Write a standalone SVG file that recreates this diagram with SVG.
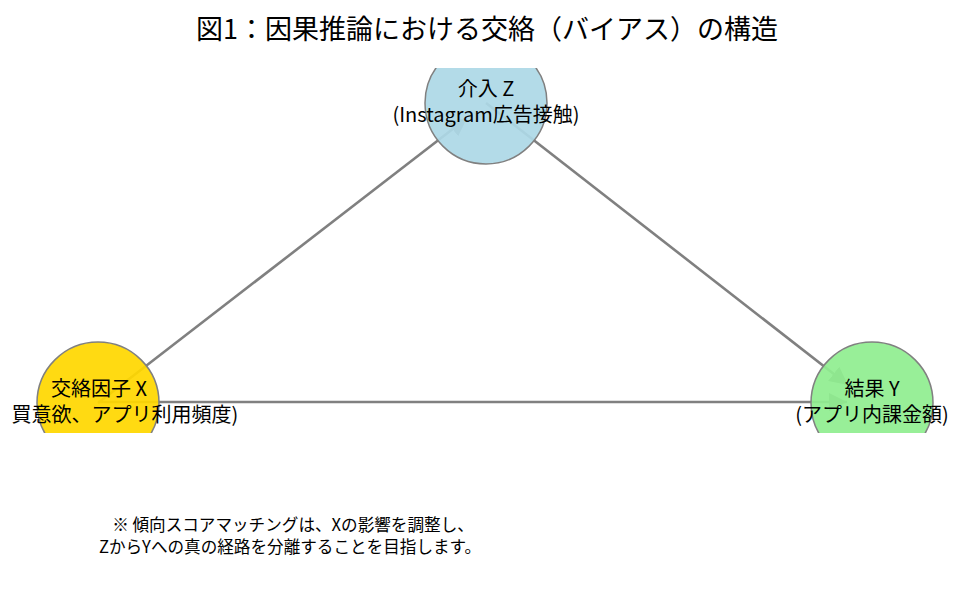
<svg xmlns="http://www.w3.org/2000/svg" width="972" height="608" viewBox="0 0 972 608">
<style>
text{font-family:"Noto Sans CJK JP","Noto Sans",sans-serif;fill:#000}
.t{font-size:27px}
.n{font-size:20px;text-anchor:middle}
.s{font-size:16.6px;text-anchor:middle}
.e{stroke:#808080;stroke-width:2.6;fill:none}
.c{stroke:#808080;stroke-width:1.5;fill-opacity:0.93}
</style>
<defs>
<marker id="ah" viewBox="0 0 10 10" refX="10" refY="5" markerWidth="7" markerHeight="7" markerUnits="strokeWidth" orient="auto">
<path d="M0,0 L10,5 L0,10 z" fill="#808080"/>
</marker>
<clipPath id="ax"><rect x="0" y="68" width="972" height="365"/></clipPath>
</defs>
<rect width="972" height="608" fill="#fff"/>
<text class="t" x="487" y="39" text-anchor="middle">図1：因果推論における交絡（バイアス）の構造</text>
<g id="edges">
<line class="e" x1="98" y1="403" x2="467" y2="118" marker-end="url(#ah)"/>
<line class="e" x1="486" y1="103" x2="848" y2="385" marker-end="url(#ah)"/>
<line class="e" x1="98" y1="402" x2="847" y2="402" marker-end="url(#ah)"/>
</g>
<g clip-path="url(#ax)">
<g id="nodeZ"><circle class="c" cx="486" cy="103" r="61" fill="#ADD8E6"/></g>
<g id="nodeX"><circle class="c" cx="98" cy="403" r="61" fill="#FFD700"/></g>
<g id="nodeY"><circle class="c" cx="872" cy="403" r="61" fill="#90EE90"/></g>
</g>
<g id="labels">
<text class="n"><tspan x="486" y="96">介入 Z</tspan><tspan x="486" y="122">(Instagram広告接触)</tspan></text>
<text class="n"><tspan x="99" y="396">交絡因子 X</tspan><tspan x="125" y="422">買意欲、アプリ利用頻度)</tspan></text>
<text class="n"><tspan x="872" y="396">結果 Y</tspan><tspan x="872" y="422">(アプリ内課金額)</tspan></text>
</g>
<g id="note">
<text class="s"><tspan x="293" y="531">※ 傾向スコアマッチングは、Xの影響を調整し、</tspan><tspan x="290" y="553">ZからYへの真の経路を分離することを目指します。</tspan></text>
</g>
</svg>
